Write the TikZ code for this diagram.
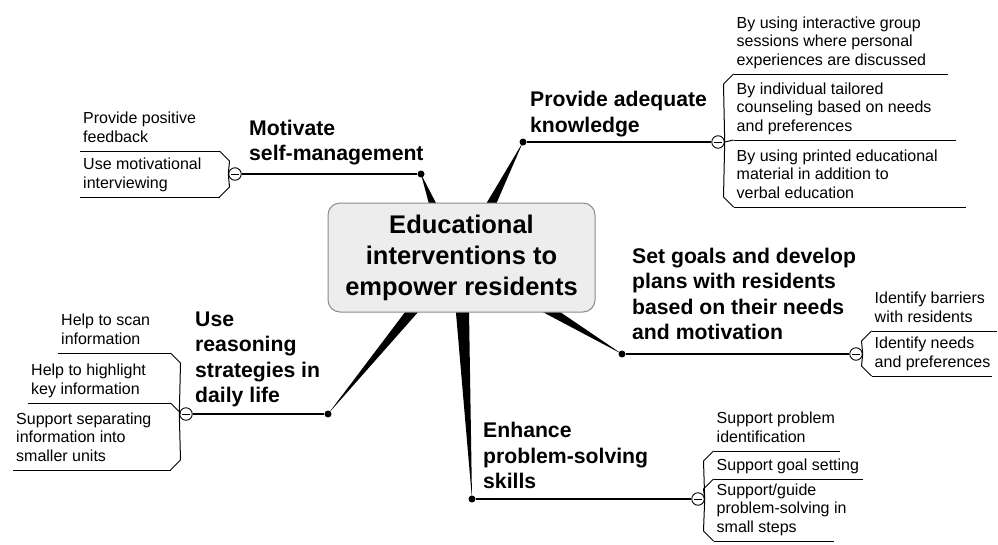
\documentclass[tikz,border=0pt]{standalone}
\usepackage{fontspec}
\setmainfont{Liberation Sans}
\usetikzlibrary{calc}
\pgfdeclarelayer{background}
\pgfsetlayers{background,main}

\tikzset{
    hub/.style={draw=black!45, fill=black!7, line width=1pt, rounded corners=12pt,
        minimum width=267pt, minimum height=109pt, inner sep=0pt, align=center,
        font=\fontsize{25.5}{31}\bfseries\selectfont},
    topic/.style={anchor=south west, align=left, inner sep=0pt,
        font=\fontsize{21.2}{25.5}\bfseries\selectfont, execute at end node=\strut},
    leaf/.style={anchor=south west, align=left, inner xsep=3pt, inner ysep=3pt,
        font=\fontsize{16}{18.5}\selectfont, execute at end node=\strut},
    joint/.style={circle, fill=black, minimum size=7pt, inner sep=0pt},
    knob/.style={circle, draw, fill=white, line width=0.9pt, minimum size=12.5pt, inner sep=0pt,
        path picture={\draw[line width=0.9pt] ([xshift=2.5pt]path picture bounding box.west)
            -- ([xshift=-2.5pt]path picture bounding box.east);}},
    stem/.style={line width=1.3pt},
    twig/.style={line width=1pt},
}

% tapered spoke from a point on the hub (#1) to a joint (#2), half width #3
\newcommand{\Spoke}[3]{
    \begin{pgfonlayer}{background}
        \coordinate (sb) at ($(#2)!1.3!(#1)$);
        \fill ($(sb)!#3!90:(#2)$) -- (#2.center) -- ($(sb)!#3!-90:(#2)$) -- cycle;
    \end{pgfonlayer}
}

% leaf text with its underline; the far end of the line is (#1e)
\newcommand{\Leaf}[4]{
    \node[leaf] (#1) at (#2) {#4};
    \draw[twig] (#1.south west) -- ++(#3,0) coordinate (#1e);
}

\begin{document}
\begin{tikzpicture}[x=1pt, y=-1pt]
    \useasboundingbox (0,0) rectangle (998,544);

    \node[hub] (hub) at (461.5,257.5) {Educational\\interventions to\\empower residents};

    % joints at the ends of the spokes
    \node[joint] (D1) at (421,174) {};
    \node[joint] (D2) at (523,142) {};
    \node[joint] (D3) at (622,354) {};
    \node[joint] (D4) at (472,499) {};
    \node[joint] (D5) at (328,414) {};

    % spokes (behind the hub)
    \coordinate (W1) at ($(hub.north)+(-29.5,0)$);
    \coordinate (W2) at ($(hub.north)+(30.5,0)$);
    \coordinate (W3) at ($(hub.south)+(91.5,0)$);
    \coordinate (W4) at ($(hub.south)+(1,0)$);
    \coordinate (W5) at ($(hub.south)+(-50.5,0)$);
    \Spoke{W1}{D1}{4.3pt}
    \Spoke{W2}{D2}{5.7pt}
    \Spoke{W3}{D3}{5.7pt}
    \Spoke{W4}{D4}{8.5pt}
    \Spoke{W5}{D5}{6.5pt}

    % topics
    \node[topic] (T1) at (249,168.5) {Motivate\\self-management};
    \node[topic] (T2) at (530,140) {Provide adequate\\knowledge};
    \node[topic] (T3) at (632,347.5) {Set goals and develop\\plans with residents\\based on their needs\\and motivation};
    \node[topic] (T4) at (483,496.5) {Enhance\\problem-solving\\skills};
    \node[topic] (T5) at (195,410.5) {Use\\reasoning\\strategies in\\daily life};

    % collapse knobs
    \node[knob] (C1) at (235,174) {};
    \node[knob] (C2) at (718,142) {};
    \node[knob] (C3) at (856,354) {};
    \node[knob] (C4) at (698,499) {};
    \node[knob] (C5) at (186,414) {};
    \foreach \i in {1,...,5}
        \draw[stem] (D\i) -- (C\i);

    % motivate self-management
    \Leaf{L11}{80,151}{139.5}{Provide positive\\feedback}
    \Leaf{L12}{80,197}{139.5}{Use motivational\\interviewing}
    \draw[twig] (C1.west) -- ($(L11e)+(10,10)$) -- (L11e);
    \draw[twig] (C1.west) -- ($(L12e)+(10,-10)$) -- (L12e);

    % provide adequate knowledge
    \Leaf{L21}{733.5,74}{214.5}{By using interactive group\\sessions where personal\\experiences are discussed}
    \Leaf{L22}{733.5,140}{222.5}{By individual tailored\\counseling based on needs\\and preferences}
    \Leaf{L23}{733.5,207}{232.5}{By using printed educational\\material in addition to\\verbal education}
    \draw[twig] (C2.east) -- ($(L21.south west)+(-10,10)$) -- (L21.south west);
    \draw[twig] (C2.east) -- (L22.south west);
    \draw[twig] (C2.east) -- ($(L23.south west)+(-10,-10)$) -- (L23.south west);

    % set goals
    \Leaf{L31}{871.5,331}{125.5}{Identify barriers\\with residents}
    \Leaf{L32}{871.5,376}{120.5}{Identify needs\\and preferences}
    \draw[twig] (C3.east) -- ($(L31.south west)+(-10,10)$) -- (L31.south west);
    \draw[twig] (C3.east) -- ($(L32.south west)+(-10,-10)$) -- (L32.south west);

    % enhance problem-solving skills
    \Leaf{L41}{713.5,451}{126.5}{Support problem\\identification}
    \Leaf{L42}{713.5,479}{149.5}{Support goal setting}
    \Leaf{L43}{713.5,541}{120}{Support/guide\\problem-solving in\\small steps}
    \draw[twig] (C4.east) -- ($(L41.south west)+(-10,10)$) -- (L41.south west);
    \draw[twig] (C4.east) -- ($(L42.south west)+(-10,10)$) -- (L42.south west);
    \draw[twig] (C4.east) -- ($(L43.south west)+(-10,-10)$) -- (L43.south west);

    % use reasoning strategies
    \Leaf{L51}{58,353}{112.5}{Help to scan\\information}
    \Leaf{L52}{28,403}{142.5}{Help to highlight\\key information}
    \Leaf{L53}{13,470}{157.5}{Support separating\\information into\\smaller units}
    \draw[twig] (C5.west) -- ($(L51e)+(10,10)$) -- (L51e);
    \draw[twig] (C5.west) -- ($(L52e)+(10,10)$) -- (L52e);
    \draw[twig] (C5.west) -- ($(L53e)+(10,-10)$) -- (L53e);
\end{tikzpicture}
\end{document}
